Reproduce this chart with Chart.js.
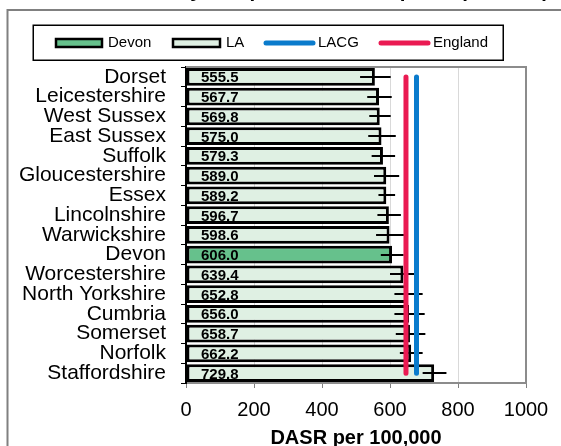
<!DOCTYPE html>
<html>
<head>
<meta charset="utf-8">
<script src="https://cdn.jsdelivr.net/npm/chart.js@4/dist/chart.umd.min.js"></script>
<style>
  html, body { margin: 0; padding: 0; background: #ffffff; }
  #wrap { width: 561px; height: 446px; overflow: hidden; }
  canvas { display: block; }
</style>
</head>
<body>
<div id="wrap"><canvas id="c" width="561" height="446"></canvas></div>
<script>
// ---- data ----
const titleText = 'Mortality compared to LACG peers (2014-16)';
const axisTitle = 'DASR per 100,000';
const categories = ['Dorset','Leicestershire','West Sussex','East Sussex','Suffolk','Gloucestershire','Essex','Lincolnshire','Warwickshire','Devon','Worcestershire','North Yorkshire','Cumbria','Somerset','Norfolk','Staffordshire'];
const dasr    = [555.5, 567.7, 569.8, 575.0, 579.3, 589.0, 589.2, 596.7, 598.6, 606.0, 639.4, 652.8, 656.0, 658.7, 662.2, 729.8];
const ciLower = [512, 533, 539, 536, 546, 553, 566, 563, 559, 573, 600, 613, 613, 617, 629, 696];
const ciUpper = [602, 605, 602, 617, 615, 627, 615, 632, 641, 640, 671, 696, 702, 704, 696, 766];
const lacgValue = 678;
const englandValue = 647;
const highlightArea = 'Devon';
const xTicks = [0, 200, 400, 600, 800, 1000];

// ---- styles ----
const FONT = 'Arial, "Liberation Sans", sans-serif';
const devonColor = '#66c18c';
const laColor = '#dff0e3';
const lacgColor = '#0a7bcc';
const englandColor = '#ea1a52';

const barColors = categories.map(c => c === highlightArea ? devonColor : laColor);

const decorPlugin = {
  id: 'decor',
  beforeDraw(chart) {
    const ctx = chart.ctx;
    ctx.save();
    // cropped chart title
    ctx.fillStyle = '#000';
    ctx.font = 'bold 20.5px ' + FONT;
    ctx.textAlign = 'right';
    ctx.textBaseline = 'alphabetic';
    ctx.fillText(titleText, 549, -3.5);
    // outer frame
    ctx.strokeStyle = '#808080';
    ctx.lineWidth = 2;
    ctx.strokeRect(7.5, 10, 700, 600);
    // legend box
    ctx.strokeStyle = '#000';
    ctx.lineWidth = 1.5;
    ctx.strokeRect(33.25, 25.25, 470, 35);
    const ds = chart.data.datasets;
    const cy = 43;
    ctx.font = '15px ' + FONT;
    ctx.textAlign = 'left';
    ctx.textBaseline = 'middle';
    // Devon swatch
    ctx.fillStyle = devonColor;
    ctx.fillRect(56, cy - 4, 46, 8);
    ctx.lineWidth = 2.5; ctx.strokeStyle = '#000';
    ctx.strokeRect(56, cy - 4, 46, 8);
    ctx.fillStyle = '#000';
    ctx.fillText(highlightArea, 108, cy);
    // LA swatch
    ctx.fillStyle = laColor;
    ctx.fillRect(173, cy - 4, 47, 8);
    ctx.strokeRect(173, cy - 4, 47, 8);
    ctx.fillStyle = '#000';
    ctx.fillText(ds[0].label, 226, cy);
    // LACG line
    ctx.lineCap = 'round';
    ctx.lineWidth = 5;
    ctx.strokeStyle = lacgColor;
    ctx.beginPath(); ctx.moveTo(266, cy); ctx.lineTo(313, cy); ctx.stroke();
    ctx.fillStyle = '#000';
    ctx.fillText(ds[1].label, 318, cy);
    // England line
    ctx.strokeStyle = englandColor;
    ctx.beginPath(); ctx.moveTo(381, cy); ctx.lineTo(428, cy); ctx.stroke();
    ctx.fillStyle = '#000';
    ctx.fillText(ds[2].label, 433, cy);
    ctx.restore();
  },
  beforeDatasetsDraw(chart) {
    const {ctx, chartArea: a} = chart;
    ctx.save();
    ctx.strokeStyle = '#8c8c8c';
    ctx.lineWidth = 2;
    ctx.beginPath();
    ctx.moveTo(a.left, a.top);
    ctx.lineTo(a.right, a.top);
    ctx.lineTo(a.right, a.bottom);
    ctx.stroke();
    ctx.restore();
  },
  afterDatasetDraw(chart, args) {
    if (args.index !== 0) return;
    const ctx = chart.ctx;
    const xs = chart.scales.x;
    const meta = chart.getDatasetMeta(0);
    ctx.save();
    // error bars
    ctx.strokeStyle = '#000';
    ctx.lineWidth = 2;
    meta.data.forEach((bar, i) => {
      const y = Math.round(bar.y);
      ctx.beginPath();
      ctx.moveTo(xs.getPixelForValue(ciLower[i]), y);
      ctx.lineTo(xs.getPixelForValue(ciUpper[i]), y);
      ctx.stroke();
    });
    // value labels (bold, underlined)
    ctx.font = 'bold 15px ' + FONT;
    ctx.textAlign = 'left';
    ctx.textBaseline = 'alphabetic';
    ctx.fillStyle = '#000';
    ctx.lineWidth = 1.2;
    meta.data.forEach((bar, i) => {
      const txt = dasr[i].toFixed(1);
      const x = xs.getPixelForValue(0) + 15;
      const yb = bar.y + 5.5;
      ctx.fillText(txt, x, yb);
      const w = ctx.measureText(txt).width;
      ctx.beginPath();
      ctx.moveTo(x, yb + 1.6);
      ctx.lineTo(x + w, yb + 1.6);
      ctx.stroke();
    });
    ctx.restore();
  }
};

new Chart(document.getElementById('c'), {
  data: {
    labels: categories,
    datasets: [
      {
        type: 'bar', label: 'LA', data: dasr,
        backgroundColor: barColors, borderColor: '#000', borderWidth: 3,
        borderSkipped: false, barPercentage: 0.91, categoryPercentage: 1, order: 3
      },
      {
        type: 'line', label: 'LACG', data: categories.map(() => lacgValue),
        borderColor: lacgColor, borderWidth: 5, borderCapStyle: 'round',
        pointRadius: 0, fill: false, order: 2
      },
      {
        type: 'line', label: 'England', data: categories.map(() => englandValue),
        borderColor: englandColor, borderWidth: 5, borderCapStyle: 'round',
        pointRadius: 0, fill: false, order: 1
      }
    ]
  },
  options: {
    indexAxis: 'y',
    responsive: false,
    animation: false,
    devicePixelRatio: 1,
    layout: { padding: { top: 67, right: 35, left: 0, bottom: 0 } },
    plugins: { legend: { display: false }, title: { display: false }, tooltip: { enabled: false } },
    scales: {
      x: {
        type: 'linear', min: xTicks[0], max: xTicks[xTicks.length - 1],
        afterFit(s) { s.height = 63; },
        afterBuildTicks(s) { s.ticks = xTicks.map(v => ({ value: v })); },
        grid: { color: '#d9d9d9', lineWidth: 1, tickColor: '#808080', tickLength: 5, drawTicks: true },
        border: { color: '#8c8c8c', width: 2 },
        ticks: { color: '#000', font: { family: FONT, size: 20 }, padding: 10, maxRotation: 0,
                 callback: v => String(v) },
        title: { display: true, text: axisTitle, color: '#000', font: { family: FONT, size: 20, weight: 'bold', lineHeight: 0.75 }, padding: { top: 0, bottom: 0 } }
      },
      y: {
        type: 'category',
        afterFit(s) { s.width = 186; },
        grid: { drawOnChartArea: false, drawTicks: true, tickLength: 5, tickColor: '#000', offset: true },
        border: { color: '#000', width: 2 },
        ticks: { color: '#000', font: { family: FONT, size: 21 }, padding: 15, autoSkip: false, crossAlign: 'near' }
      }
    }
  },
  plugins: [decorPlugin]
});
</script>
</body>
</html>
